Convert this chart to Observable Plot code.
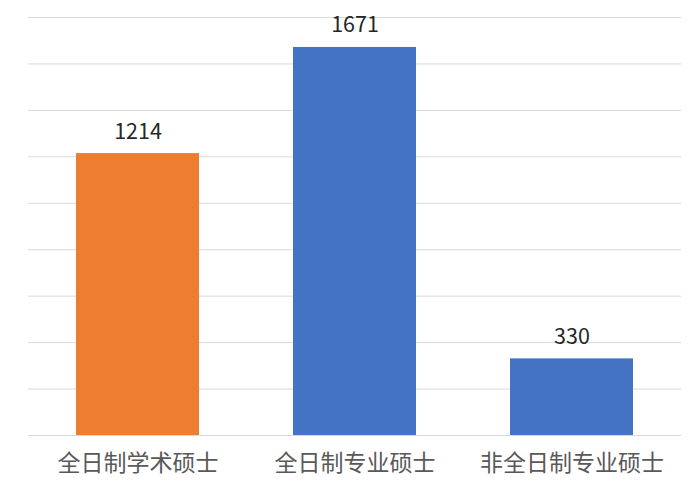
<!DOCTYPE html>
<html>
<head>
<meta charset="utf-8">
<script src="https://cdn.jsdelivr.net/npm/d3@7"></script>
<script src="https://cdn.jsdelivr.net/npm/@observablehq/plot@0.6"></script>
<style>
  html, body { margin: 0; padding: 0; background: #fff; }
  #chart svg { display: block; }
</style>
</head>
<body>
<div id="chart"></div>
<script>
const categories = ["全日制学术硕士", "全日制专业硕士", "非全日制专业硕士"];
const values = [1214, 1671, 330];
const barColors = ["#ED7D31", "#4472C4", "#4472C4"];
const yTicks = [0, 200, 400, 600, 800, 1000, 1200, 1400, 1600, 1800];

const data = categories.map((c, i) => ({ category: c, value: values[i], color: barColors[i] }));

const font = "'Noto Sans CJK SC', 'Noto Sans', sans-serif";

const chart = Plot.plot({
  width: 700,
  height: 491,
  marginLeft: 28,
  marginRight: 19,
  marginTop: 17,
  marginBottom: 56,
  style: { fontFamily: font, background: "#fff" },
  x: { domain: categories, paddingInner: 0.435, paddingOuter: 0.2175, label: null, axis: null },
  y: { domain: [0, 1800], label: null, axis: null },
  marks: [
    Plot.ruleY(yTicks, { stroke: "#d9d9d9", strokeWidth: 1 }),
    Plot.barY(data, { x: "category", y: "value", fill: "color" }),
    Plot.text(data, {
      x: "category", y: "value", text: d => String(d.value),
      dy: -15, lineAnchor: "bottom", fontSize: 21.5, fill: "#262626"
    }),
    Plot.axisX({ tickSize: 0, tickPadding: 19, fontSize: 23, color: "#595959", label: null }),
  ]
});
document.getElementById("chart").appendChild(chart);
</script>
</body>
</html>
